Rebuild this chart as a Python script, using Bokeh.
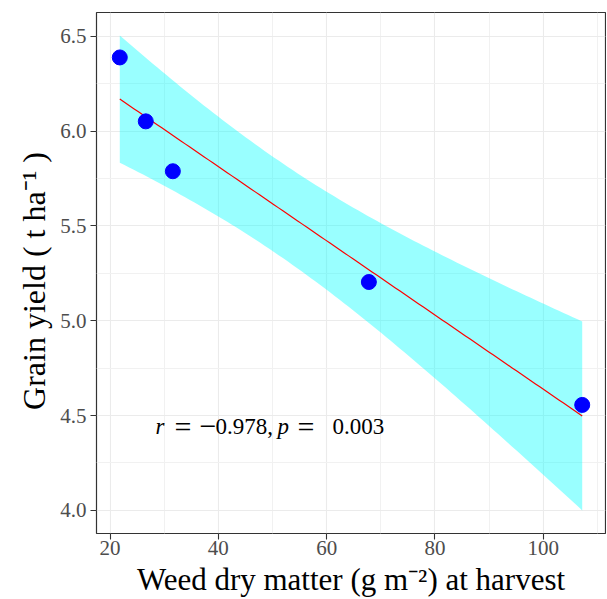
import numpy as np
from bokeh.plotting import figure
from bokeh.models import Range1d, FixedTicker, PrintfTickFormatter
from bokeh.core.properties import value
from bokeh.embed import file_html
from bokeh.resources import INLINE

# ---- data ----
weed_dm = [21.8, 26.6, 31.6, 67.8, 107.2]          # g m^-2
grain_yield = [6.388, 6.051, 5.788, 5.204, 4.556]  # t ha^-1
x_ticks = [20, 40, 60, 80, 100]
x_minor = [10, 30, 50, 70, 90, 110]
y_ticks = [4.0, 4.5, 5.0, 5.5, 6.0, 6.5]
y_minor = [3.75, 4.25, 4.75, 5.25, 5.75, 6.25, 6.75]
x_label = "Weed dry matter (g m⁻²) at harvest"
y_label = "Grain yield (  t ha⁻¹  )"
r_value_text = "0.978,"
p_value_text = "0.003"
T_975_DF3 = 3.182446  # Student t quantile, 95% CI, n-2 = 3 df

# ---- linear fit with 95% confidence band ----
x = np.array(weed_dm)
y = np.array(grain_yield)
n = len(x)
slope, intercept = np.polyfit(x, y, 1)
resid = y - (intercept + slope * x)
s = np.sqrt(np.sum(resid ** 2) / (n - 2))
sxx = np.sum((x - x.mean()) ** 2)
xg = np.linspace(x.min(), x.max(), 100)
fit = intercept + slope * xg
se = s * np.sqrt(1.0 / n + (xg - x.mean()) ** 2 / sxx)
lower = fit - T_975_DF3 * se
upper = fit + T_975_DF3 * se

SERIF = "Liberation Serif"

p = figure(width=606, height=599,
           x_range=Range1d(17.5, 111.5), y_range=Range1d(3.878, 6.625),
           output_backend="svg", toolbar_location=None,
           min_border_left=96, min_border_right=1,
           min_border_top=12, min_border_bottom=66)
p.background_fill_color = "white"
p.border_fill_color = "white"
p.outline_line_color = "#333333"
p.outline_line_width = 1.2
p.outline_line_alpha = 1.0

p.xaxis.ticker = FixedTicker(ticks=x_ticks, minor_ticks=x_minor)
p.yaxis.ticker = FixedTicker(ticks=y_ticks, minor_ticks=y_minor)
p.yaxis.formatter = PrintfTickFormatter(format="%.1f")

for g in (p.xgrid, p.ygrid):
    g.grid_line_color = "#EBEBEB"
    g.grid_line_width = 1.1
    g.minor_grid_line_color = "#F1F1F1"
    g.minor_grid_line_width = 1.0

p.axis.axis_line_color = None
p.axis.major_tick_line_color = "#333333"
p.axis.major_tick_line_width = 1.1
p.axis.major_tick_out = 6
p.axis.major_tick_in = 0
p.axis.minor_tick_out = 0
p.axis.minor_tick_in = 0
p.axis.major_label_text_color = "#4D4D4D"
p.axis.major_label_text_font = SERIF
p.axis.major_label_text_font_size = "21px"
p.axis.axis_label_text_font = SERIF
p.axis.axis_label_text_font_style = "normal"
p.axis.axis_label_text_color = "black"
p.xaxis.axis_label_text_font_size = "31px"
p.yaxis.axis_label_text_font_size = "32px"
p.xaxis.major_label_standoff = 1
p.yaxis.major_label_standoff = 4
p.xaxis.axis_label_standoff = 4
p.yaxis.axis_label_standoff = 5
p.xaxis.axis_label = x_label
p.yaxis.axis_label = y_label

p.varea(x=xg, y1=lower, y2=upper, fill_color="cyan", fill_alpha=0.4)
p.line(xg, fit, line_color="red", line_width=1.2)
p.scatter(weed_dm, grain_yield, size=15, fill_color="blue", line_color="blue")

# annotation  r = -0.978, p = 0.003
ANN_X, ANN_Y = 50, 4.5
common = dict(text_align="left", text_baseline="alphabetic", text_color="black")
p.text(x=[ANN_X] * 2, y=[ANN_Y] * 2, text=["r", "p"],
       x_offset=[-117, 5], y_offset=[11] * 2,
       text_font=value(SERIF), text_font_style="italic",
       text_font_size="23px", **common)
p.text(x=[ANN_X] * 3, y=[ANN_Y] * 3, text=["=", "−", "="],
       x_offset=[-98, -73, 25], y_offset=[11] * 3,
       text_font=value(SERIF), text_font_size="30px", **common)
p.text(x=[ANN_X] * 2, y=[ANN_Y] * 2, text=[r_value_text, p_value_text],
       x_offset=[-57, 60], y_offset=[11] * 2,
       text_font=value(SERIF), text_font_size="23px", **common)

open("out.html", "w").write(file_html(p, INLINE))
